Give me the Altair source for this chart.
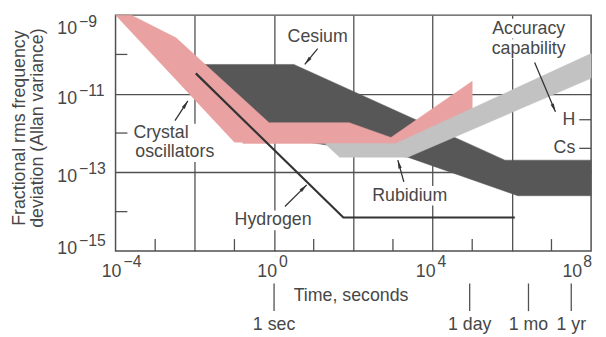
import math
import altair as alt
import pandas as pd

FONT = "Liberation Sans"
TXT = "#474747"
LINE = "#505050"
PINK = "#e9a1a2"
DARK = "#575757"
LIGHT = "#c2c2c2"
INK = "#333333"
W, H = 482, 239

# ---- region outlines: averaging time (s) vs fractional deviation ----
cesium_t = [0.0178, 3.16, 6.7e5, 1e8, 1e8, 1.41e6, 2370, 3.76, 0.119]
cesium_s = [5.56e-11, 5.56e-11, 2.04e-13, 2.04e-13, 2.54e-14, 2.54e-14, 2.43e-13, 6.47e-13, 2.06e-12]

crystal_t = [1e-4, 2.5e-4, 3.35e-3, 0.75, 79, 890, 1e5, 1e5, 1190, 50, 21, 0.106]
crystal_s = [1e-9, 1e-9, 2.65e-10, 1.83e-12, 1.83e-12, 7.7e-13, 2.08e-11, 3.27e-12,
             4.08e-13, 4.08e-13, 5.45e-13, 5.45e-13]

rubidium_t = [18.8, 1190, 1e8, 1e8, 2370, 44.7]
rubidium_s = [5.45e-13, 5.45e-13, 1.05e-10, 2.47e-11, 2.43e-13, 2.43e-13]

hydrogen_t = [0.0106, 56, 1.19e6]
hydrogen_s = [3.3e-11, 7.1e-15, 7.1e-15]

# ---- accuracy levels at right edge ----
acc_labels = ["H", "Cs"]
acc_levels = [2.18e-12, 4.08e-13]

# ---- annotations ----
ann_center_text = ["Cesium", "Accuracy", "capability", "Hydrogen", "Rubidium"]
ann_center_t = [12.6, 2.66e6, 2.66e6, 0.944, 2660]
ann_center_s = [2.1e-10, 3.4e-10, 1.03e-10, 4.5e-15, 1.9e-14]
ann_left_text = ["Crystal", "oscillators"]
ann_left_t = [2.82e-4, 3.16e-4]
ann_left_s = [7.28e-13, 2.43e-13]

arrow_t0 = [12.6, 3.16e-3, 3.76e6, 1.88, 1880]
arrow_s0 = [1.4e-10, 2.06e-12, 6.2e-11, 1.35e-14, 5.7e-14]
arrow_t1 = [5.96, 6.68e-3, 1.26e7, 6.68, 1330]
arrow_s1 = [5.56e-11, 6.55e-12, 3.47e-12, 4.8e-14, 2.04e-13]

# ---- axes ----
grid_x = [1e-2, 1, 1e2, 1e4, 1e6]
grid_y = [1e-11, 1e-13]
minor_x = [1e-3, 1e-1, 1e1, 1e3, 1e5, 1e7]
minor_y = [1e-10, 1e-12, 1e-14]
x_label_vals = [1e-4, 1, 1e4, 1e8]
x_label_exp = ["\u22124", "0", "4", "8"]
y_label_vals = [1e-9, 1e-11, 1e-13, 1e-15]
y_label_exp = ["\u22129", "\u221211", "\u221213", "\u221215"]

time_marks = ["1 sec", "1 day", "1 mo", "1 yr"]
time_vals = [1, 86400, 2.63e6, 3.156e7]

xs = alt.Scale(type="log", domain=[1e-4, 1e8])
ys = alt.Scale(type="log", domain=[1e-15, 1e-9])

X_AXIS = alt.Axis(
    values=grid_x, grid=True, gridColor=LINE, gridWidth=1.3, gridOpacity=1,
    labels=False, ticks=False, domain=False,
    title="Time, seconds", titleX=180, titleY=50, titleAlign="left",
    titleBaseline="alphabetic", titleFont=FONT, titleFontSize=18,
    titleFontWeight="normal", titleColor=TXT)
Y_AXIS = alt.Axis(
    values=grid_y, grid=True, gridColor=LINE, gridWidth=1.3, gridOpacity=1,
    labels=False, ticks=False, domain=False,
    title=["Fractional rms frequency", "deviation (Allan variance)"],
    titleAngle=270, titleX=-92, titleY=114, titleAlign="center",
    titleBaseline="alphabetic", titleLineHeight=18, titleFont=FONT,
    titleFontSize=18, titleFontWeight="normal", titleColor=TXT)


def X(f="t"):
    return alt.X(f"{f}:Q", scale=xs, axis=X_AXIS)


def Y(f="s"):
    return alt.Y(f"{f}:Q", scale=ys, axis=Y_AXIS)


def poly(t, s):
    return pd.DataFrame({"t": t, "s": s, "i": list(range(len(t)))})


def text(df, **kw):
    base = dict(font=FONT, color=TXT, fontSize=18)
    base.update(kw)
    return alt.Chart(df).mark_text(**base)


layers = []

# regions
for t, s, col in [(cesium_t, cesium_s, DARK), (crystal_t, crystal_s, PINK),
                  (rubidium_t, rubidium_s, LIGHT)]:
    layers.append(
        alt.Chart(poly(t, s)).mark_line(fill=col, color=col, strokeWidth=0.5)
        .encode(x=X(), y=Y(), order=alt.Order("i:Q"))
    )

# hydrogen line
layers.append(
    alt.Chart(poly(hydrogen_t, hydrogen_s)).mark_line(color=INK, strokeWidth=2.2)
    .encode(x=X(), y=Y(), order=alt.Order("i:Q"))
)

# minor ticks (inside)
layers.append(
    alt.Chart(pd.DataFrame({"t": minor_x})).mark_rule(color=LINE, strokeWidth=1.3)
    .encode(x=X(), y=alt.value(H), y2=alt.value(H - 12))
)
layers.append(
    alt.Chart(pd.DataFrame({"s": minor_y})).mark_rule(color=LINE, strokeWidth=1.3)
    .encode(y=Y(), x=alt.value(0), x2=alt.value(12))
)

# accuracy level ticks at right edge
acc = pd.DataFrame({"s": acc_levels, "lab": acc_labels})
layers.append(
    alt.Chart(acc).mark_rule(color=LINE, strokeWidth=1.3)
    .encode(y=Y(), x=alt.value(W - 12), x2=alt.value(W))
)
layers.append(
    text(acc, align="right", baseline="middle").encode(
        y=Y(), x=alt.value(W - 16), text="lab:N")
)

# annotation texts on white knock-out boxes (box width from label length)
annc = pd.DataFrame({"t": ann_center_t, "s": ann_center_s, "lab": ann_center_text})
annl = pd.DataFrame({"t": ann_left_t, "s": ann_left_s, "lab": ann_left_text})


def box_path(lab, align):
    w = 9.6 * len(lab) + 6
    x0 = -w / 2 if align == "center" else -3
    return f"M{x0:.1f},-15H{x0 + w:.1f}V5H{x0:.1f}Z"


for df, al in [(annc, "center"), (annl, "left")]:
    df = df.copy()
    df["box"] = [box_path(l, al) for l in df["lab"]]
    layers.append(
        alt.Chart(df).mark_point(filled=True, color="white", size=4, opacity=1)
        .encode(x=X(), y=Y(), shape=alt.Shape("box:N", scale=None))
    )
    layers.append(
        text(df, align=al, baseline="alphabetic").encode(x=X(), y=Y(), text="lab:N")
    )

# arrows
arr = pd.DataFrame({"t0": arrow_t0, "s0": arrow_s0, "t1": arrow_t1, "s1": arrow_s1})
ppx, ppy = W / 12.0, H / 6.0
arr["ang"] = [
    (math.degrees(math.atan2((math.log10(b) - math.log10(a)) * ppx,
                             (math.log10(d) - math.log10(c)) * ppy)) + 360) % 360
    for a, b, c, d in zip(arr.t0, arr.t1, arr.s0, arr.s1)
]
layers.append(
    alt.Chart(arr).mark_rule(color=INK, strokeWidth=1.3)
    .encode(x=X("t0"), y=Y("s0"), x2="t1:Q", y2="s1:Q")
)
layers.append(
    alt.Chart(arr).mark_point(
        shape="M0,0L0.45,2.2L-0.45,2.2Z", filled=True, color=INK, size=60, opacity=1
    ).encode(x=X("t1"), y=Y("s1"), angle=alt.Angle("ang:Q", scale=None))
)

# y-axis labels (10 with exponent)
ylab = pd.DataFrame({"v": y_label_vals, "e": y_label_exp})
for df, db, de in [(ylab.iloc[[0]], 19, 12), (ylab.iloc[1:-1], 10, 2), (ylab.iloc[[-1]], 3, -5)]:
    layers.append(
        text(df, align="right", baseline="alphabetic", dy=db, text="10")
        .encode(x=alt.value(-39), y=Y("v"))
    )
    layers.append(
        text(df, align="left", baseline="alphabetic", dy=de, fontSize=16)
        .encode(x=alt.value(-37), y=Y("v"), text="e:N")
    )

# x-axis labels
xlab = pd.DataFrame({"v": x_label_vals, "e": x_label_exp})
for df, db, de in [(xlab.iloc[[0]], 6, 8), (xlab.iloc[1:-1], 3, 5), (xlab.iloc[[-1]], -9, -8)]:
    layers.append(
        text(df, align="right", baseline="alphabetic", dx=db, text="10")
        .encode(x=X("v"), y=alt.value(H + 26))
    )
    layers.append(
        text(df, align="left", baseline="alphabetic", dx=de, fontSize=16)
        .encode(x=X("v"), y=alt.value(H + 16), text="e:N")
    )

# time landmarks below the axis
tm = pd.DataFrame({"t": time_vals, "lab": time_marks})
layers.append(
    alt.Chart(tm).mark_rule(color=LINE, strokeWidth=1.3)
    .encode(x=X(), y=alt.value(H + 33), y2=alt.value(H + 61))
)
layers.append(
    text(tm, align="center", baseline="alphabetic").encode(
        x=X(), y=alt.value(H + 80), text="lab:N")
)

chart = alt.layer(*layers).properties(
    width=W, height=H,
    padding={"left": 109, "top": 5, "right": 7, "bottom": 85},
    autosize=alt.AutoSizeParams(type="none"),
).configure_view(stroke=LINE, strokeWidth=1.5)

chart.save("out.html", embed_options={"renderer": "svg", "actions": False})
